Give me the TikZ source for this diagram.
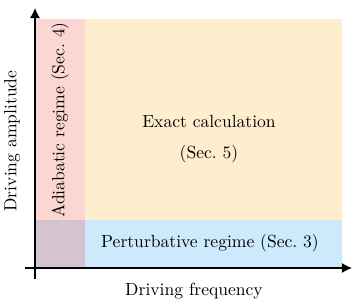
\documentclass[tikz,border=0pt]{standalone}
\usetikzlibrary{arrows.meta}
\definecolor{adiabatic}{RGB}{252,214,210}
\definecolor{exact}{RGB}{255,238,206}
\definecolor{perturb}{RGB}{204,234,252}
\definecolor{overlap}{RGB}{212,196,208}
\tikzset{
  axis/.style={thick,-{Latex[length=10pt*0.57,width=10pt*0.57]}},
  regionlabel/.style={inner sep=0pt},
}
\begin{document}
\begin{tikzpicture}[x=0.02cm,y=-0.02cm]
  \useasboundingbox (0,0) rectangle (357,304);
  % regions
  \fill[exact] (85,19) rectangle (342,220);
  \fill[perturb] (85,220) rectangle (342,267);
  \fill[adiabatic] (35,19) rectangle (85,220);
  \fill[overlap] (35,220) rectangle (85,267);
  % axes
  \coordinate (O) at (35,268);
  \coordinate (xstart) at (25,268);
  \coordinate (xend) at (352,268);
  \coordinate (ystart) at (35,279);
  \coordinate (yend) at (35,8);
  \draw[axis] (xstart) -- (xend);
  \draw[axis] (ystart) -- (yend);
  % labels
  \node[regionlabel,align=center] (exactlbl) at (209,139)
    {Exact calculation\\[6pt](Sec.~5)};
  \node[regionlabel] (perturblbl) at (210,243) {Perturbative regime (Sec.~3)};
  \node[regionlabel,rotate=90] (adiablbl) at (60,120) {Adiabatic regime (Sec.~4)};
  \node[regionlabel,rotate=90] (ylbl) at (12,141) {Driving amplitude};
  \node[regionlabel] (xlbl) at (194,291) {Driving frequency};
\end{tikzpicture}
\end{document}
